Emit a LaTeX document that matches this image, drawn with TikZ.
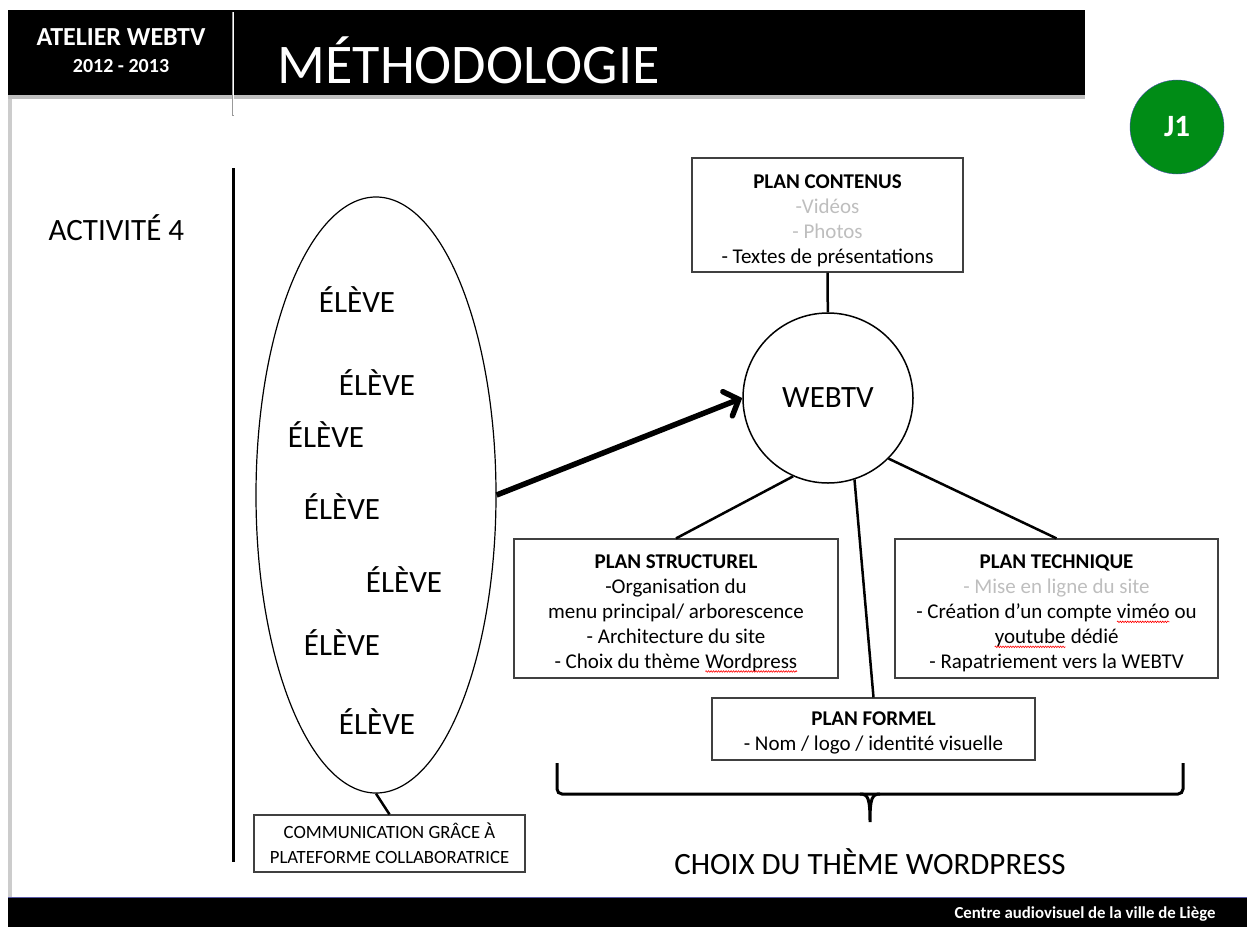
\documentclass[tikz,border=0pt]{standalone}
\usepackage{fontspec}
\setmainfont{Carlito}
\usetikzlibrary{shapes.geometric,arrows.meta,decorations.pathmorphing}

\definecolor{jgreen}{RGB}{0,140,22}
\definecolor{softgray}{RGB}{190,190,190}
\newcommand{\fs}[2]{\fontsize{#1}{#2}\selectfont}
\newcommand{\faute}[1]{\tikz[baseline=(mot.base)]{\node[draw=none, fill=none, inner sep=0pt, outer sep=0pt, minimum size=0pt] (mot) {#1};
    \draw[red, line width=0.6pt, -, decorate, decoration={snake, amplitude=0.8pt, segment length=2.5pt}] ([yshift=-3pt]mot.base west) -- ([yshift=-3pt]mot.base east);}}

\begin{document}
\begin{tikzpicture}[x=1pt,y=-1pt,
    planbox/.style={draw=black!75, line width=1.2pt, align=center, inner sep=0pt, font=\fs{21}{25}},
    eleve/.style={font=\fs{31}{34}},
    link/.style={line width=2.5pt},
    arrow/.style={line width=5.5pt, -{Straight Barb[length=12pt,width=26pt,line cap=round]}}
]
    \useasboundingbox (0,0) rectangle (1247,927);

    % Header and footer
    \fill[black!20] (8,95) rectangle (12,897);
    \fill[black!25] (8,95) rectangle (1085,99);
    \fill (8,10) rectangle (1085,95);
    \draw[black!40, line width=2pt] (233,12) -- (233,116);
    \draw[white, line width=1pt] (233,12) -- (233,115);
    \node[white, font=\bfseries\fs{26}{28}] (atelier) at (121,37) {ATELIER WEBTV};
    \node[white, font=\bfseries\fs{20}{24}] (annee) at (121,66) {2012 - 2013};
    \node[white, font=\fs{56}{60}, anchor=west] (titre) at (274,60) {MÉTHODOLOGIE};
    \fill (8,897) rectangle (1247,927);
    \draw[blue!30!gray, line width=1pt] (8,897) -- (1247,897);
    \node[white, font=\bfseries\fs{16.8}{18}, anchor=east] (centre) at (1219,914) {Centre audiovisuel de la ville de Liège};

    % Day badge
    \node[circle, fill=jgreen, draw=blue!40!gray, minimum size=94pt, text=white, font=\bfseries\fs{31}{32}] (jour) at (1177,127) {J1};

    % Activity
    \node[font=\fs{31}{34}, anchor=west] (activite) at (45,228) {ACTIVITÉ 4};
    \draw[line width=3pt] (233,168) -- (233,862);

    % Students
    \node[draw, ellipse, line width=1.2pt, minimum width=240pt, minimum height=596pt] (groupe) at (376,495) {};
    \node[eleve] (e1) at (357,300) {ÉLÈVE};
    \node[eleve] (e2) at (377,383) {ÉLÈVE};
    \node[eleve] (e3) at (326,435) {ÉLÈVE};
    \node[eleve] (e4) at (342,507) {ÉLÈVE};
    \node[eleve] (e5) at (404,580) {ÉLÈVE};
    \node[eleve] (e6) at (342,643) {ÉLÈVE};
    \node[eleve] (e7) at (377,722) {ÉLÈVE};
    \node[planbox, font=\fs{18.7}{25}, minimum width=271pt, minimum height=57pt] (communication) at (389.5,843.5) {COMMUNICATION GRÂCE À\\PLATEFORME COLLABORATRICE};
    \draw[link] (groupe.south) -- (communication.north);

    % Web TV and plans
    \node[draw, circle, line width=1.5pt, minimum size=170pt, font=\fs{31}{34}] (webtv) at (828,398) {WEBTV};
    \node[planbox, minimum width=271pt, minimum height=114pt] (contenus) at (827.5,215) {\rule{0pt}{26pt}\textbf{PLAN CONTENUS}\\\textcolor{softgray}{-Vidéos}\\\textcolor{softgray}{- Photos}\\- Textes de présentations};
    \node[planbox, minimum width=324pt, minimum height=139pt] (structurel) at (676,608.5) {\rule{0pt}{24pt}\textbf{PLAN STRUCTUREL}\\-Organisation du\\menu principal/ arborescence\\- Architecture du site\\- Choix du thème \faute{Wordpress}};
    \node[planbox, minimum width=323pt, minimum height=139pt] (technique) at (1056.5,608.5) {\rule{0pt}{24pt}\textbf{PLAN TECHNIQUE}\\\textcolor{softgray}{- Mise en ligne du site}\\- Création d’un compte \faute{viméo} ou\\\faute{youtube} dédié\\- Rapatriement vers la WEBTV};
    \node[planbox, minimum width=323pt, minimum height=62pt] (formel) at (873.5,729) {\rule{0pt}{22pt}\textbf{PLAN FORMEL}\\- Nom / logo / identité visuelle};

    % Connectors
    \draw[arrow] (groupe.east) -- (webtv.west);
    \draw[link] (contenus) -- (webtv);
    \draw[link] (webtv.-114) -- (structurel.north);
    \draw[link] (webtv.-45) -- (technique.north);
    \draw[link] (webtv.-72) -- (formel.north);

    % Brace
    \draw[line width=3pt, rounded corners=5pt] (557,763) -- (557,794) -- (1183,794) -- (1183,763);
    \draw[line width=3pt] (860,794) .. controls (868,794) and (870,798) .. (870,822) .. controls (870,798) and (872,794) .. (880,794);
    \node[font=\fs{31}{34}] (choix) at (870,862) {CHOIX DU THÈME WORDPRESS};
\end{tikzpicture}
\end{document}
